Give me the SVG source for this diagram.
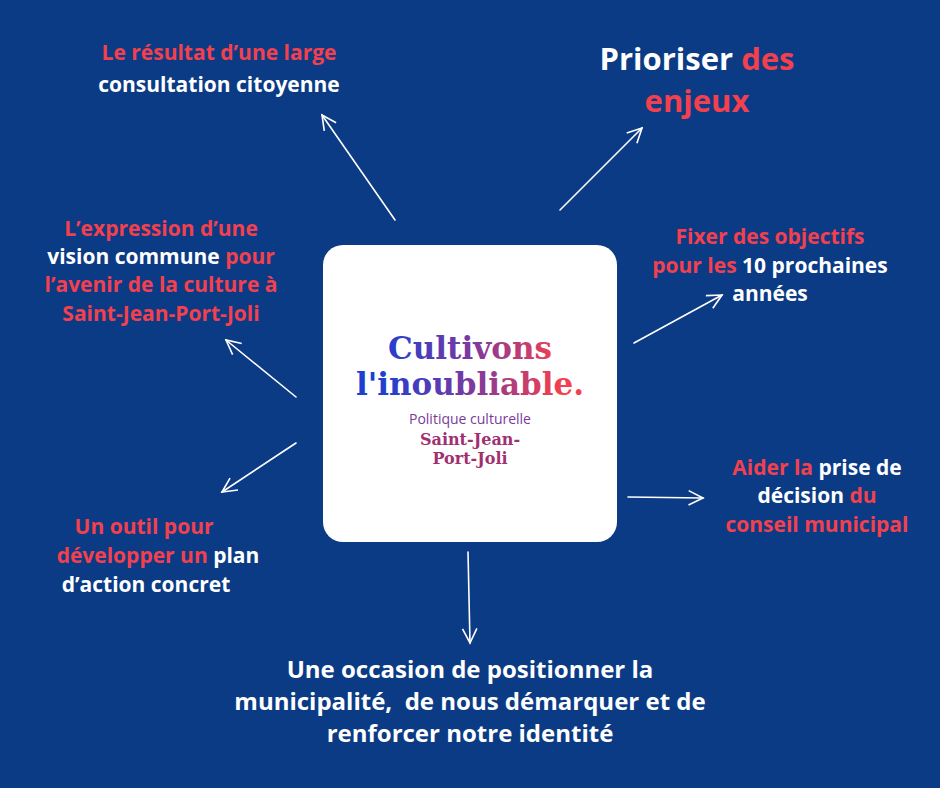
<svg xmlns="http://www.w3.org/2000/svg" width="940" height="788" viewBox="0 0 940 788">
<style>
.t{font-family:"Open Sans","Noto Sans",sans-serif;font-weight:700;fill:#fff;text-anchor:middle}
.m{font-size:21px}
.r{fill:#f2404f}
.a{stroke:#fff;stroke-width:1.6;fill:none;stroke-linecap:round}
.l{font-family:"DejaVu Serif","Liberation Serif",serif;font-weight:700;text-anchor:middle}
</style>
<defs>
<linearGradient id="g" x1="380" y1="0" x2="560" y2="0" gradientUnits="userSpaceOnUse">
<stop offset="0" stop-color="#1f3fd0"/><stop offset="0.5" stop-color="#7a3aa0"/><stop offset="1" stop-color="#f2404f"/>
</linearGradient>
<marker id="h" viewBox="0 0 20 20" refX="18" refY="10" markerWidth="18" markerHeight="18" markerUnits="userSpaceOnUse" orient="auto">
<path d="M2 2 L18 10 L2 18" fill="none" stroke="#fff" stroke-width="1.8"/>
</marker>
</defs>
<rect width="940" height="788" fill="#0b3b84"/>
<g id="connectors">
<line class="a" x1="395" y1="220" x2="322" y2="115" marker-end="url(#h)"/>
<line class="a" x1="560" y1="210" x2="642" y2="128" marker-end="url(#h)"/>
<line class="a" x1="634" y1="343" x2="722" y2="295" marker-end="url(#h)"/>
<line class="a" x1="628" y1="497" x2="703" y2="498" marker-end="url(#h)"/>
<line class="a" x1="468" y1="552" x2="470" y2="643" marker-end="url(#h)"/>
<line class="a" x1="296" y1="443" x2="222" y2="492" marker-end="url(#h)"/>
<line class="a" x1="296" y1="397" x2="226" y2="340" marker-end="url(#h)"/>
</g>
<g id="center">
<rect x="323" y="245" width="294" height="297" rx="20" fill="#fff"/>
<text class="l" x="470" y="359" font-size="31" fill="url(#g)">Cultivons</text>
<text class="l" x="470" y="395" font-size="31" fill="url(#g)">l'inoubliable.</text>
<text x="470" y="424" font-family="Open Sans,sans-serif" font-size="14" fill="#7a3a9a" text-anchor="middle">Politique culturelle</text>
<text class="l" x="470" y="445" font-size="16" fill="#a03070">Saint-Jean-</text>
<text class="l" x="470" y="464" font-size="16" fill="#a03070">Port-Joli</text>
</g>
<g id="n1"><text class="t m r" x="219" y="60">Le résultat d’une large</text><text class="t m" x="219" y="92">consultation citoyenne</text></g>
<g id="n2"><text class="t" font-size="31" x="697" y="70">Prioriser <tspan class="r">des</tspan></text><text class="t r" font-size="31" x="697" y="112">enjeux</text></g>
<g id="n3"><text class="t m r" x="161" y="236">L’expression d’une</text><text class="t m" x="161" y="264">vision commune <tspan class="r">pour</tspan></text><text class="t m r" x="161" y="292">l’avenir de la culture à</text><text class="t m r" x="161" y="321">Saint-Jean-Port-Joli</text></g>
<g id="n4"><text class="t m r" x="770" y="244">Fixer des objectifs</text><text class="t m" x="770" y="273"><tspan class="r">pour les</tspan> 10 prochaines</text><text class="t m" x="770" y="301">années</text></g>
<g id="n5"><text class="t m" x="817" y="475"><tspan class="r">Aider la</tspan> prise de</text><text class="t m" x="817" y="503">décision <tspan class="r">du</tspan></text><text class="t m r" x="817" y="532">conseil municipal</text></g>
<g id="n6"><text class="t m r" x="144" y="534">Un outil pour</text><text class="t m" x="158" y="563"><tspan class="r">développer un</tspan> plan</text><text class="t m" x="146" y="592">d’action concret</text></g>
<g id="n7"><text class="t" font-size="24" x="470" y="678">Une occasion de positionner la</text><text class="t" font-size="24" x="470" y="710" xml:space="preserve">municipalité,  de nous démarquer et de</text><text class="t" font-size="24" x="470" y="742">renforcer notre identité</text></g>
</svg>
